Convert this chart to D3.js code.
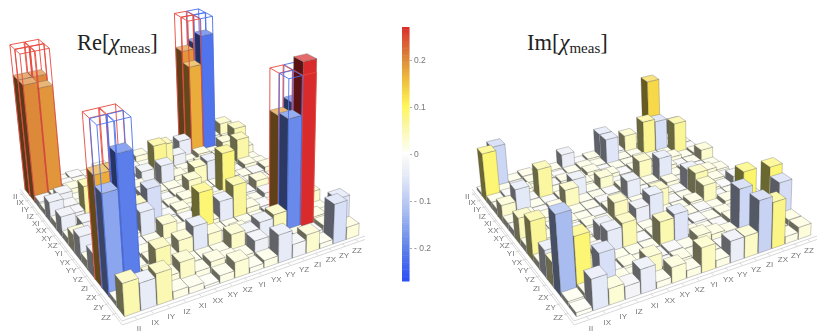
<!DOCTYPE html>
<html><head><meta charset="utf-8">
<script src="https://cdn.jsdelivr.net/npm/d3@7"></script>
<style>html,body{margin:0;background:#fff}</style></head>
<body><svg id="chart" width="830" height="335"><defs><filter id="flat"><feOffset dx="0" dy="0"/></filter></defs></svg>
<script>
const labels = ["II","IX","IY","IZ","XI","XX","XY","XZ","YI","YX","YY","YZ","ZI","ZX","ZY","ZZ"];

// values, row by row (row = left axis, column = right axis)
const reValues = [
 [.2,.2,.01,-.012,.008,.015,-.01,.012,.02,-.01,.015,-.02,.19,-.2,.02,.04],
 [.2,.19,-.015,.012,-.01,.01,.015,-.012,.01,.02,-.015,-.04,.17,-.22,.015,.02],
 [-.012,.015,.02,-.01,.015,-.02,.012,.015,-.01,.055,-.03,.012,.02,.015,.03,.05],
 [.01,-.03,.012,.03,-.05,.015,-.012,-.03,.07,.012,.012,.015,-.012,.02,.015,.025],
 [-.035,-.02,.015,.025,.012,-.015,.02,.012,-.045,.02,.015,.03,-.012,.015,.055,.012],
 [.012,-.02,.06,-.01,.015,.012,-.02,.015,.015,.012,.04,-.045,.015,-.012,.02,.015],
 [-.035,.015,-.012,.02,-.015,.012,.018,-.012,.015,.035,.012,.012,.02,.015,-.015,.02],
 [.012,-.03,.015,.012,-.012,.02,-.012,.015,.02,.012,-.012,.08,-.02,.015,.012,-.012],
 [.03,-.015,.012,-.012,.05,-.07,-.015,.02,.012,-.012,.018,.012,-.015,.03,.012,.015],
 [-.04,.012,-.015,.018,-.05,.012,.012,-.015,.02,.012,-.015,.018,.012,-.02,.015,.012],
 [.015,-.012,.018,-.012,.012,.035,.015,-.012,.018,-.045,.065,.02,-.015,.012,.018,-.012],
 [-.04,.015,-.012,.015,.012,.012,-.015,.085,.012,.012,.012,.012,-.015,.018,.012,.03],
 [.17,.17,.012,.018,.015,.035,-.05,.03,-.012,.02,-.015,.018,.185,-.2,.015,.012],
 [-.155,-.205,.015,.05,.012,.012,.012,.012,.035,-.03,-.04,.045,-.19,.27,.02,.015],
 [.008,-.012,.03,.02,.035,.012,.02,.015,.012,-.03,.012,.012,.015,-.012,.018,-.055],
 [.05,-.042,.048,.012,.01,.004,.012,.025,.008,.012,-.045,-.022,.03,.008,-.065,.02]
];
const imValues = [
 [.005,-.08,.012,.015,-.01,.012,-.035,-.012,.015,-.055,-.015,.04,.02,.13,.015,.04],
 [.085,.012,-.012,.015,.012,-.01,.012,.015,.012,-.055,.012,.012,.07,-.065,.015,.012],
 [.012,-.015,.018,.012,-.012,.015,.012,.018,-.012,.012,.012,.015,.012,.012,.065,-.012],
 [.012,.015,-.012,.06,.012,-.012,.015,.012,.018,-.012,.015,.012,-.012,.018,.012,.015],
 [.03,-.05,.012,-.012,.015,-.04,.012,.03,-.012,.012,.04,.012,.018,-.012,.012,.03],
 [.012,.015,-.012,.015,.04,.012,.012,-.012,.018,.012,.012,-.05,.012,.015,-.012,.012],
 [-.012,.012,.018,.012,.012,.012,-.015,.012,-.04,-.012,.012,.018,-.012,.012,.02,.015],
 [.045,.012,-.012,.015,.012,-.012,.018,.012,.012,.012,.015,-.012,-.045,.012,.015,-.012],
 [.012,.015,.012,-.012,.015,.012,.04,.018,.012,.04,-.012,.012,.05,.015,-.012,-.025],
 [.065,-.012,.012,.015,-.012,.012,.012,-.035,-.05,.012,.012,.018,.04,-.012,.012,.015],
 [.012,.015,-.012,.012,-.04,-.012,.012,.012,.012,.012,.015,-.015,.012,.018,-.012,.012],
 [-.045,.012,.015,-.02,-.045,.05,-.012,.015,.012,-.012,-.015,.012,.015,-.012,.012,.018],
 [.04,.015,.012,.025,.012,.012,.012,.05,-.055,.015,.012,-.012,.018,.09,.012,.085],
 [-.125,.085,.012,-.012,.015,.012,-.012,-.015,.012,.025,.02,.015,-.08,.012,.015,-.07],
 [.008,.012,-.065,.015,.012,.035,-.012,.015,.012,.012,-.012,.018,.012,.015,-.012,.02],
 [.006,-.048,.025,-.02,-.038,.01,.025,.012,.04,.012,-.035,.035,-.085,.075,.012,.02]
];
// ideal process matrix, drawn as wire boxes: [row, column, value]
const idealValues = [
 ["II","II",.25],["II","IX",.25],["IX","II",.25],["IX","IX",.25],
 ["II","ZI",.25],["II","ZX",-.25],["IX","ZI",.25],["IX","ZX",-.25],
 ["ZI","II",.25],["ZI","IX",.25],["ZX","II",-.25],["ZX","IX",-.25],
 ["ZI","ZI",.25],["ZI","ZX",-.25],["ZX","ZI",-.25],["ZX","ZX",.25]
];
const colorStops = [-.27,-.2,-.125,-.08,-.05,-.03,-.012,0,.012,.03,.05,.07,.1,.13,.16,.2,.27];
const colorRange = ["#2d50f5","#5f82ea","#a8bcf0","#ccd6f5","#e4e9f8","#eef0f6","#f8f8f8","#ffffff","#fdfde6","#fcfbce","#fbf8b0","#faf590","#fff65a","#f6d848","#eeb83c","#dc8a3a","#d92b2b"];
const barTicks = [-.2,-.1,0,.1,.2];

const svg = d3.select("#chart");
const color = d3.scaleLinear().domain(colorStops).range(colorRange);

// camera: floor corners in pixels, perspective weights and vanishing point of the verticals
const cornerL = [20,189], cornerF = [122,321], cornerR = [365,236], vanish = [263,2450];
const persA = .28, persB = .15;
const wL = 1 + persA, wR = 1 + persB;
const rowScale = d3.scaleBand().domain(labels).range([.015,.985]).paddingInner(.05).paddingOuter(.025);
const colScale = d3.scaleBand().domain(labels).range([.015,.985]).paddingInner(.05).paddingOuter(.025);
const heightScale = d3.scaleLinear().domain([0,1]).range([0,.308]);

function project(s, t, z, ox) {
    const w = 1 + persA * (1 - s) + persB * t;
    const p = [0,1].map(i => wL*cornerL[i] + s*(cornerF[i] - wL*cornerL[i]) + t*(wR*cornerR[i] - cornerF[i]) - z*vanish[i]);
    return [p[0] / (w - z) + ox, p[1] / (w - z)];
}
const poly = pts => "M" + pts.map(p => p.map(v => v.toFixed(2)).join(",")).join("L") + "Z";
const shade = c => { const k = d3.rgb(c); return d3.rgb(k.r*.42, k.g*.42, k.b*.42); };

function drawPanel(values, ideal, ox) {
    const g = svg.append("g");

    // floor frame on the two front sides
    const edge = g.append("g").attr("stroke","#cfcfcf").attr("fill","none").attr("stroke-width",.8);
    [0,.006].forEach(d => {
        const z = heightScale(-d);
        edge.append("path").attr("d", d3.line()([project(0,0,z,ox),project(1,0,z,ox),project(1,1,z,ox)]));
    });
    const text = g.append("g").attr("filter","url(#flat)");
    labels.forEach(name => {
        const sm = rowScale(name) + rowScale.bandwidth()/2;
        const tm = colScale(name) + colScale.bandwidth()/2;
        edge.append("path").attr("d", d3.line()([project(sm,0,0,ox),project(sm,-.015,0,ox)]));
        edge.append("path").attr("d", d3.line()([project(1,tm,0,ox),project(1.015,tm,0,ox)]));
        const a = project(sm,-.036,0,ox), b = project(1.06,tm*.97-.012,0,ox);
        text.append("text").attr("x",a[0]).attr("y",a[1]).attr("dy","0.35em").attr("text-anchor","middle").attr("class","tick").text(name);
        text.append("text").attr("x",b[0]).attr("y",b[1]).attr("dy","0.35em").attr("text-anchor","middle").attr("class","tick").text(name);
    });

    // painter's order: back row first, far column first
    labels.forEach((rowName, r) => {
        d3.range(15,-1,-1).forEach(c => {
            const colName = labels[c];
            const s0 = rowScale(rowName), s1 = s0 + rowScale.bandwidth();
            const t0 = colScale(colName), t1 = t0 + colScale.bandwidth();
            const v = values[r][c];
            const z = heightScale(Math.abs(v));
            const base = color(v);
            const wire = ideal ? ideal.find(d => d[0] === rowName && d[1] === colName) : null;
            const wz = wire ? heightScale(Math.abs(wire[2])) : 0;
            const wc = wire ? (wire[2] > 0 ? "#e8483c" : "#4a70ee") : null;

            if (wire) {
                // hidden edges of the wire box first
                g.append("path").attr("fill","none").attr("stroke",wc).attr("stroke-width",.9)
                    .attr("d", d3.line()([project(s1,t1,wz,ox),project(s0,t1,wz,ox),project(s0,t0,wz,ox)])
                        + d3.line()([project(s0,t1,0,ox),project(s0,t1,wz,ox)]));
            }
            const cell = g.append("g").attr("stroke","#555").attr("stroke-opacity",.6).attr("stroke-width",.5);
            cell.append("path").attr("fill", shade(base))
                .attr("d", poly([project(s0,t0,0,ox),project(s1,t0,0,ox),project(s1,t0,z,ox),project(s0,t0,z,ox)]));
            cell.append("path").attr("fill", base)
                .attr("d", poly([project(s1,t0,0,ox),project(s1,t1,0,ox),project(s1,t1,z,ox),project(s1,t0,z,ox)]));
            cell.append("path").attr("fill", d3.interpolateRgb(base,"#fff")(.3))
                .attr("d", poly([project(s0,t0,z,ox),project(s1,t0,z,ox),project(s1,t1,z,ox),project(s0,t1,z,ox)]));
            if (wire) {
                g.append("path").attr("fill","none").attr("stroke",wc).attr("stroke-width",.9)
                    .attr("d", d3.line()([project(s0,t0,0,ox),project(s0,t0,wz,ox),project(s1,t0,wz,ox),project(s1,t0,0,ox)])
                        + d3.line()([project(s1,t0,wz,ox),project(s1,t1,wz,ox),project(s1,t1,0,ox)]));
            }
        });
    });
}
svg.append("style").text(".tick{font-family:'Liberation Sans',sans-serif;font-size:8px;fill:#777}");
drawPanel(reValues, idealValues, 0);
drawPanel(imValues, null, 452);

// titles
function title(x, name) {
    const t = svg.append("text").attr("x",x).attr("y",50).attr("font-family","'Liberation Serif',serif").attr("font-size",22.5).attr("fill","#222");
    t.append("tspan").text(name + "[");
    t.append("tspan").attr("font-style","italic").text("χ");
    t.append("tspan").attr("font-size",15).attr("dy",3).text("meas");
    t.append("tspan").attr("dy",-3).text("]");
}
title(77,"Re");
title(527,"Im");

// colour bar
const barScale = d3.scaleLinear().domain([-.27,.27]).range([281,27]);
const bar = svg.append("g");
d3.range(-.27,.27,.005).forEach(v => {
    bar.append("rect").attr("x",402).attr("width",7.5).attr("y",barScale(v+.005)).attr("height",barScale(v)-barScale(v+.005)+.5).attr("fill",color(v));
});
const axis = d3.axisRight(barScale).tickValues(barTicks).tickSize(2).tickPadding(2)
    .tickFormat(d => d === 0 ? "0" : d < 0 ? "- " + (-d) : d);
const ag = svg.append("g").attr("transform","translate(410,0)").attr("filter","url(#flat)").call(axis);
ag.select(".domain").remove();
ag.selectAll("line").attr("stroke","#aaa");
ag.selectAll("text").attr("font-family","'Liberation Sans',sans-serif").attr("font-size",8.5).attr("fill","#777");
</script></body></html>
